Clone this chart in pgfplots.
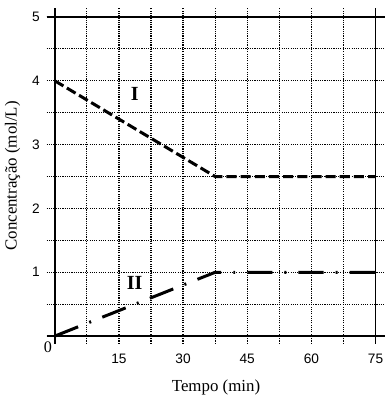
\documentclass[border=0pt]{standalone}
\usepackage{pgfplots}
\pgfplotsset{compat=1.18}
\usepackage{fontspec}
\setmainfont{Liberation Serif}
\newfontfamily\ticksans{Liberation Sans}
\begin{document}
\begin{tikzpicture}
\begin{axis}[
  name=ax,
  scale only axis,
  width=225pt, height=223pt,
  xmin=-1.9, xmax=77.3, ymin=-0.12, ymax=5.14,
  axis line style={draw=none},
  xtick={0,7.5,...,75},
  xticklabels={,,15,,30,,45,,60,,75},
  ytick={0,0.5,...,5},
  yticklabels={,,1,,2,,3,,4,,5},
  major tick length=0pt,
  grid=major,
  major grid style={black, dash pattern=on 0.75pt off 0.75pt, line width=0.8pt},
  extra x ticks={0,75}, extra x tick labels={},
  extra y ticks={0,5}, extra y tick labels={},
  extra tick style={major grid style={black, solid, line width=1.2pt}},
  tick label style={font=\ticksans\fontsize{9.1}{10}\selectfont},
  /pgf/number format/assume math mode=true,
  xticklabel style={yshift=-3pt},
  yticklabel style={xshift=-1pt},
  xlabel={Tempo (min)},
  ylabel={Concentração (mol/L)},
  label style={font=\fontsize{11.2}{13}\selectfont},
  xlabel style={yshift=-4pt},
  ylabel style={yshift=1pt},
  clip=false,
]
\addplot[black, line width=2pt, dash pattern=on 6.7pt off 2.7pt] coordinates {(0,4) (37.5,2.5) (75,2.5)};
\addplot[black, line width=2pt, dash pattern=on 16.7pt off 8pt on 1.3pt off 8pt] coordinates {(0,0) (37.5,1) (75,1)};
\node[font=\fontsize{13.3}{15}\selectfont\bfseries] at (axis cs:18.7,3.8) {I};
\node[font=\fontsize{13.3}{15}\selectfont\bfseries] at (axis cs:18.7,0.83) {II};
\node[font=\fontsize{10.7}{13}\selectfont] at (axis cs:-1.6,-0.17) {0};
\end{axis}
\path (current bounding box.north) ++(0,4.7pt) node[inner sep=0pt, minimum size=0pt] {};
\end{tikzpicture}
\end{document}
